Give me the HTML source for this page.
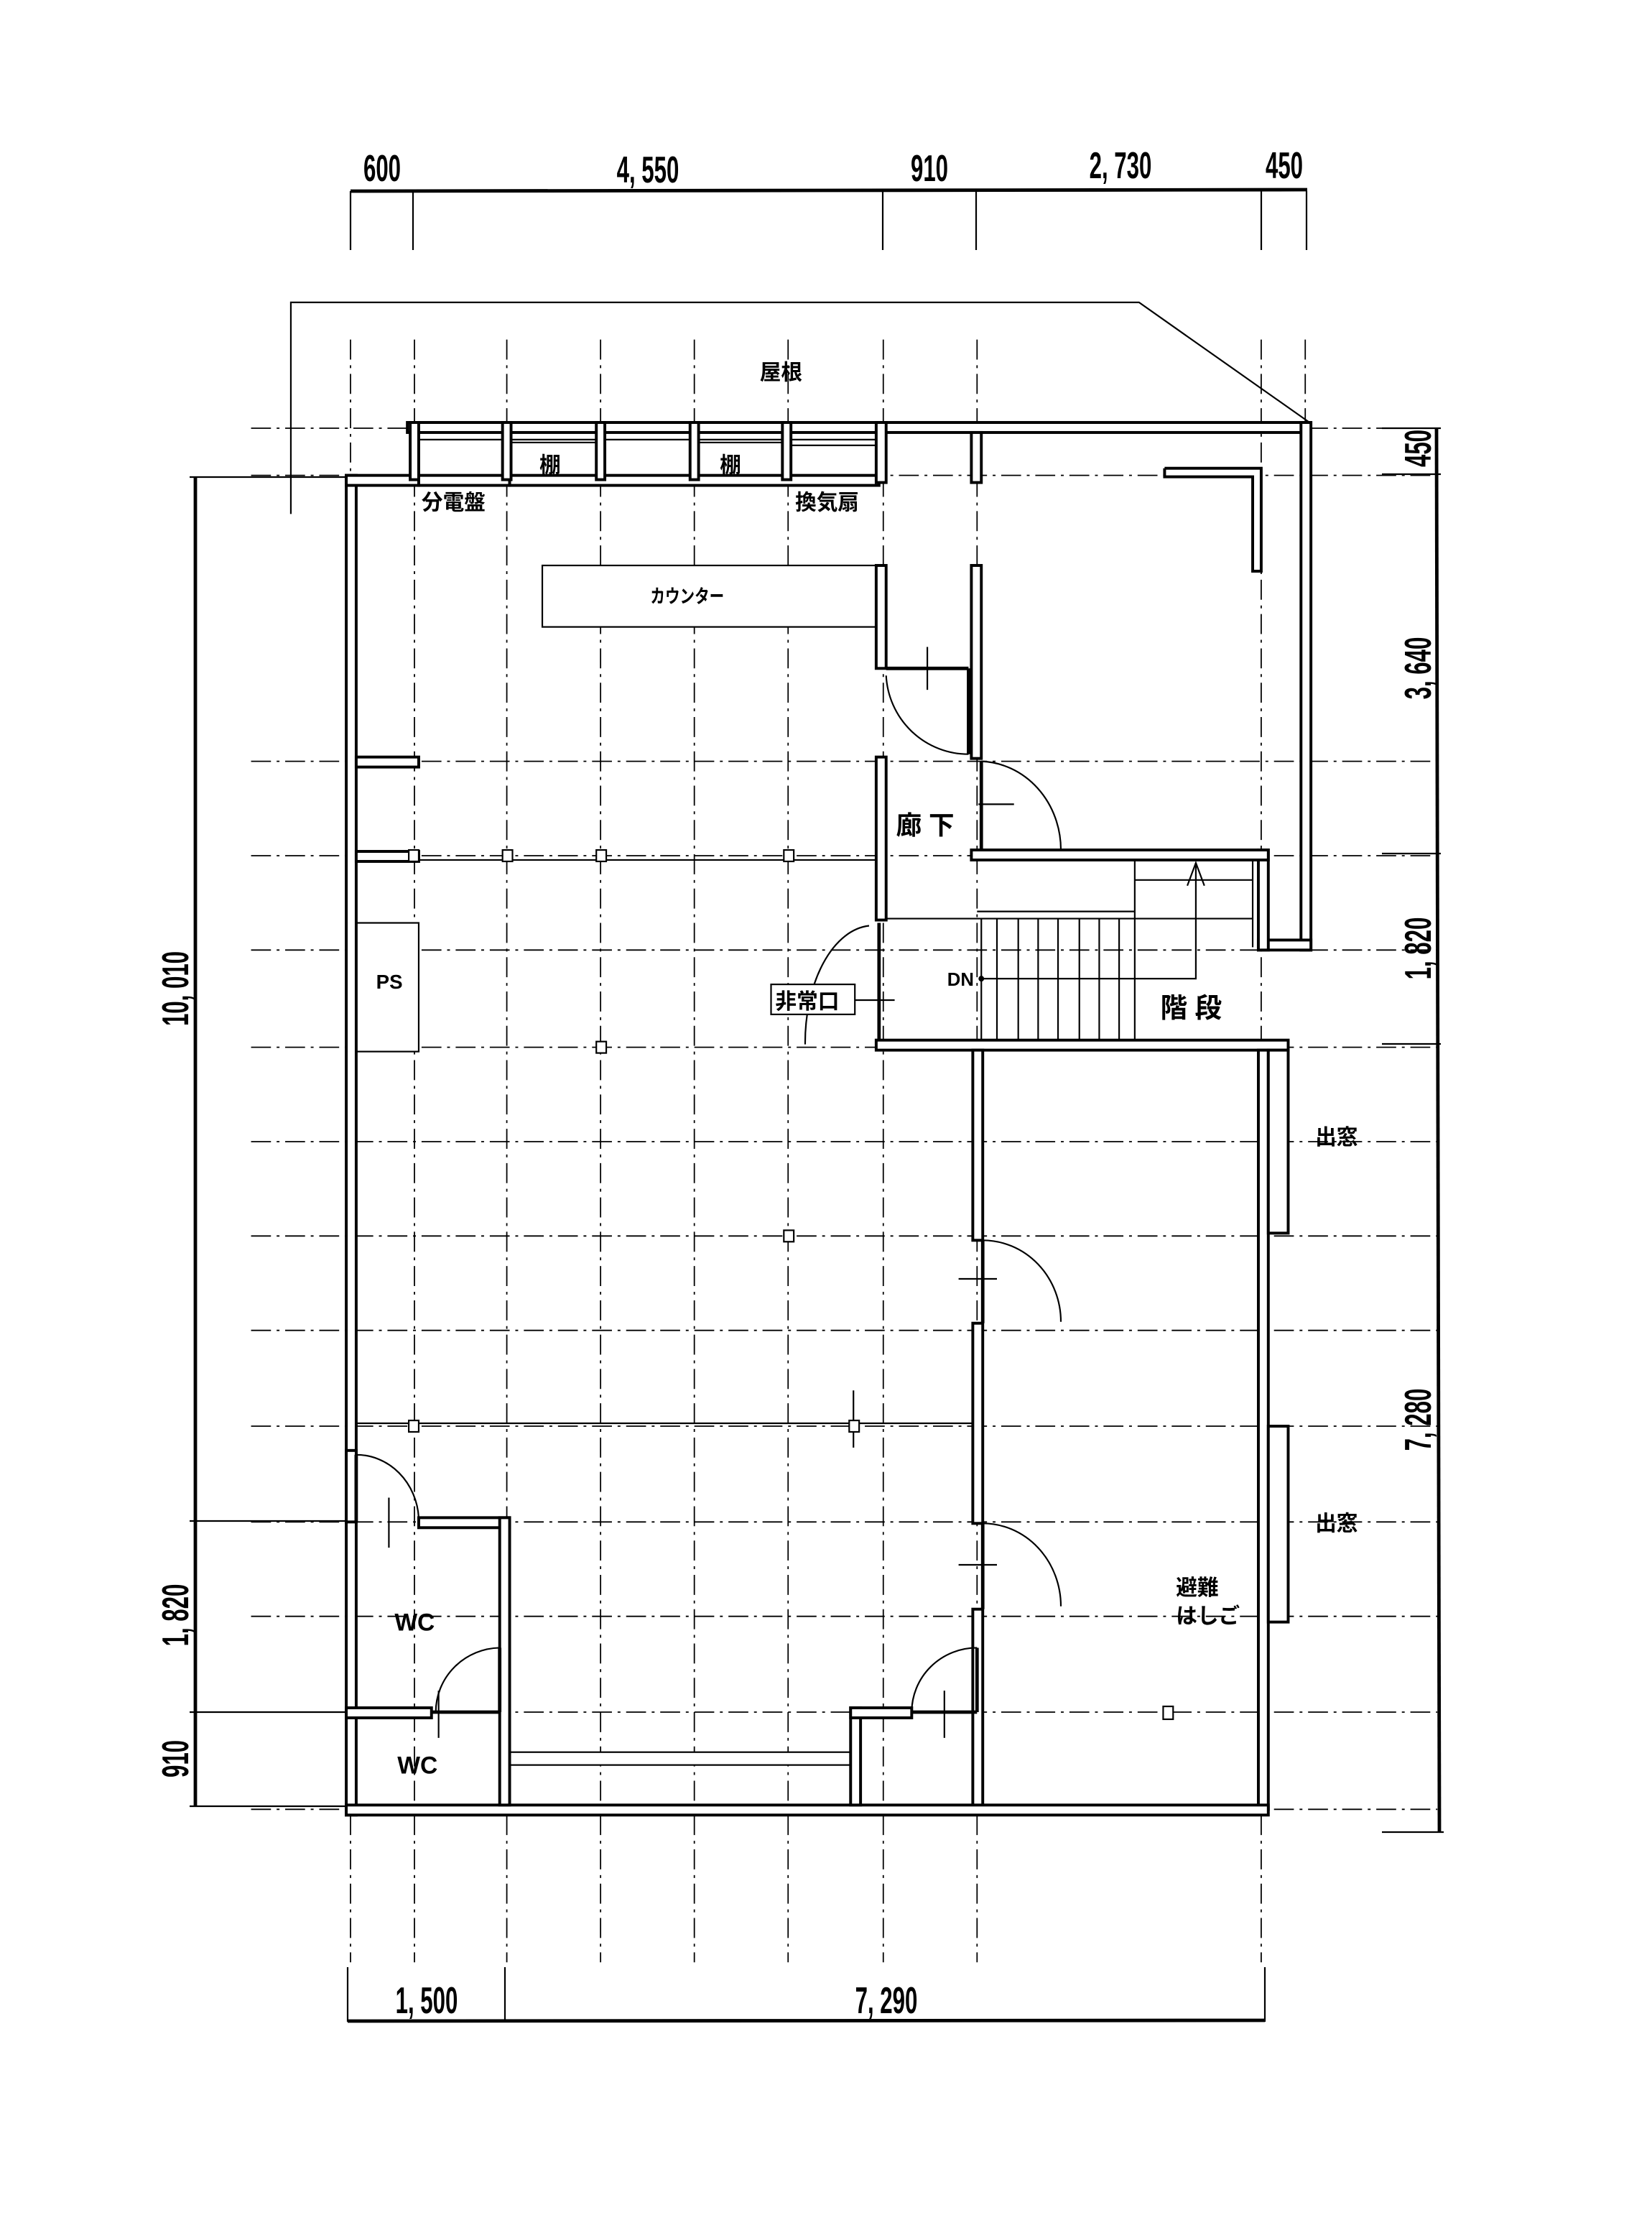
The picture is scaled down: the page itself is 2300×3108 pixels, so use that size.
<!DOCTYPE html>
<html><head><meta charset="utf-8"><style>
html,body{margin:0;padding:0;background:#fff;}
svg{display:block;}
text{font-family:"Liberation Sans","Noto Sans CJK JP",sans-serif;fill:#000;}
.g{stroke:#000;stroke-width:0.9;stroke-dasharray:14 4 2 4;fill:none;}
.w{fill:#fff;stroke:#000;stroke-width:2;}
.t{stroke:#000;stroke-width:1.1;fill:none;}
.k{stroke:#000;stroke-width:2.4;fill:none;}
.d{font-size:26px;font-weight:bold;}
.j{font-size:15px;font-weight:bold;}
</style></head><body>
<svg width="2300" height="3108" viewBox="0 0 1150 1554" xmlns="http://www.w3.org/2000/svg">

<line class="k" x1="244" y1="133" x2="910" y2="132"/>
<g class="t">
<line x1="244" y1="133" x2="244" y2="174"/><line x1="287.5" y1="133" x2="287.5" y2="174"/>
<line x1="614.5" y1="133" x2="614.5" y2="174"/><line x1="679.5" y1="133" x2="679.5" y2="174"/>
<line x1="878" y1="133" x2="878" y2="174"/><line x1="909.5" y1="133" x2="909.5" y2="174"/>
</g>
<g class="d" text-anchor="middle">
<text transform="translate(266,126) scale(0.6,1)">600</text>
<text transform="translate(451,127) scale(0.6,1)">4, 550</text>
<text transform="translate(647,126) scale(0.6,1)">910</text>
<text transform="translate(780,124) scale(0.6,1)">2, 730</text>
<text transform="translate(894,124) scale(0.6,1)">450</text>
</g>
<line class="k" x1="242" y1="1406.5" x2="880.5" y2="1406"/>
<g class="t">
<line x1="242" y1="1369" x2="242" y2="1407"/><line x1="351.5" y1="1369" x2="351.5" y2="1407"/><line x1="880.5" y1="1369" x2="880.5" y2="1407"/>
</g>
<g class="d" text-anchor="middle">
<text transform="translate(297,1401) scale(0.6,1)">1, 500</text>
<text transform="translate(617,1401) scale(0.6,1)">7, 290</text>
</g>
<line class="k" x1="136" y1="332" x2="136" y2="1257"/>
<g class="t">
<line x1="132" y1="332" x2="240" y2="332"/><line x1="132" y1="1058.5" x2="240" y2="1058.5"/>
<line x1="132" y1="1191.5" x2="240" y2="1191.5"/><line x1="132" y1="1257" x2="240" y2="1257"/>
</g>
<g class="d" text-anchor="middle">
<text transform="translate(131,688) rotate(-90) scale(0.6,1)">10, 010</text>
<text transform="translate(131,1124) rotate(-90) scale(0.6,1)">1, 820</text>
<text transform="translate(131,1224) rotate(-90) scale(0.6,1)">910</text>
</g>
<line class="k" x1="1000" y1="298" x2="1002" y2="1275"/>
<g class="t">
<line x1="962" y1="298" x2="1003" y2="298"/><line x1="962" y1="330" x2="1003" y2="330"/>
<line x1="962" y1="594" x2="1003" y2="594"/><line x1="962" y1="726.5" x2="1003" y2="726.5"/>
<line x1="962" y1="1275" x2="1005" y2="1275"/>
</g>
<g class="d" text-anchor="middle">
<text transform="translate(996,312) rotate(-90) scale(0.6,1)">450</text>
<text transform="translate(996,465) rotate(-90) scale(0.6,1)">3, 640</text>
<text transform="translate(996,660) rotate(-90) scale(0.6,1)">1, 820</text>
<text transform="translate(996,988) rotate(-90) scale(0.6,1)">7, 280</text>
</g>

<g transform="matrix(0.989,0,0,0.995,1.7,-2.5)">
<g class="g">
<line x1="245" y1="240" x2="245" y2="1375"/>
<line x1="290" y1="240" x2="290" y2="1375"/>
<line x1="355" y1="240" x2="355" y2="1375"/>
<line x1="421" y1="240" x2="421" y2="1375"/>
<line x1="487" y1="240" x2="487" y2="1375"/>
<line x1="553" y1="240" x2="553" y2="1375"/>
<line x1="620" y1="240" x2="620" y2="1375"/>
<line x1="686" y1="240" x2="686" y2="1375"/>
<line x1="886" y1="240" x2="886" y2="1375"/>
<line x1="917" y1="240" x2="917" y2="330"/>
<line x1="175" y1="302" x2="1010" y2="302"/>
<line x1="175" y1="335" x2="1010" y2="335"/>
<line x1="175" y1="535" x2="1010" y2="535"/>
<line x1="175" y1="601" x2="1010" y2="601"/>
<line x1="175" y1="667" x2="1010" y2="667"/>
<line x1="175" y1="735" x2="1010" y2="735"/>
<line x1="175" y1="801" x2="1010" y2="801"/>
<line x1="175" y1="867" x2="1010" y2="867"/>
<line x1="175" y1="933" x2="1010" y2="933"/>
<line x1="175" y1="1000" x2="1010" y2="1000"/>
<line x1="175" y1="1067" x2="1010" y2="1067"/>
<line x1="175" y1="1133" x2="1010" y2="1133"/>
<line x1="175" y1="1200" x2="1010" y2="1200"/>
<line x1="175" y1="1268" x2="1010" y2="1268"/>
</g>
<polyline class="t" points="203,362 203,214 800,214 920,298"/>
<text x="548" y="268" class="j" text-anchor="middle" font-size="16">屋根</text>

<g class="t">
<line x1="249" y1="604" x2="620" y2="604"/>
<line x1="249" y1="998" x2="686" y2="998"/>
<rect x="380" y="398" width="235" height="43" fill="#fff"/>
<rect x="249" y="648" width="44" height="90" fill="#fff"/>
<rect x="357" y="1228" width="240" height="9" fill="#fff"/>
<line x1="293" y1="310" x2="615" y2="310"/>
<rect x="357" y="312" width="64" height="24" fill="#fff"/>
<rect x="487" y="312" width="64" height="24" fill="#fff"/>
<line x1="553" y1="314" x2="615" y2="314"/>
</g>

<g class="w">
<rect x="285" y="298" width="635" height="7"/>
<rect x="242" y="335" width="7" height="937"/>
<rect x="242" y="335" width="51" height="7"/>
<rect x="287" y="298" width="6" height="40"/>
<rect x="293" y="335" width="64" height="7"/>
<rect x="357" y="335" width="260" height="7"/>
<rect x="352" y="298" width="6" height="40"/>
<rect x="418" y="298" width="6" height="40"/>
<rect x="484" y="298" width="6" height="40"/>
<rect x="549" y="298" width="6" height="40"/>
<rect x="615" y="298" width="7" height="42"/>
<rect x="615" y="398" width="7" height="72"/>
<rect x="615" y="532" width="7" height="114"/>
<rect x="682" y="305" width="7" height="35"/>
<rect x="682" y="398" width="7" height="135"/>
<rect x="914" y="298" width="7" height="369"/>
<rect x="884" y="660" width="37" height="7"/>
<rect x="884" y="597" width="7" height="70"/>
<rect x="682" y="597" width="209" height="7"/>
<polyline points="818,330 886,330 886,402 880,402 880,336 818,336 818,330"/>
<rect x="249" y="532" width="44" height="7"/>
<rect x="249" y="598" width="44" height="7"/>
<rect x="615" y="730" width="290" height="7"/>
<rect x="683" y="737" width="7" height="133"/>
<rect x="683" y="928" width="7" height="140"/>
<rect x="683" y="1128" width="7" height="142"/>
<rect x="884" y="737" width="7" height="531"/>
<rect x="891" y="737" width="14" height="128"/>
<rect x="891" y="1000" width="14" height="137"/>
<rect x="242" y="1265" width="649" height="7"/>
<rect x="293" y="1064" width="64" height="7"/>
<rect x="350" y="1064" width="7" height="201"/>
<rect x="242" y="1197" width="60" height="7"/>
<rect x="597" y="1197" width="7" height="68"/>
<rect x="597" y="1197" width="43" height="7"/>
<rect x="242" y="1017" width="7" height="50"/>
</g>
<g class="k">
<line x1="680" y1="470" x2="680" y2="530"/>
<line x1="622" y1="470" x2="680" y2="470"/>
<line x1="689" y1="535" x2="689" y2="597"/>
<line x1="690" y1="870" x2="690" y2="928"/>
<line x1="690" y1="1068" x2="690" y2="1128"/>
<line x1="249" y1="1020" x2="249" y2="1067"/>
<line x1="350" y1="1155" x2="350" y2="1200"/>
<line x1="686" y1="1155" x2="686" y2="1200"/>
<line x1="617" y1="648" x2="617" y2="730"/>
<line x1="640" y1="1200" x2="686" y2="1200"/>
<line x1="302" y1="1200" x2="350" y2="1200"/>
</g>
<g class="t">
<path d="M622,475 A58,58 0 0 0 680,530"/>
<path d="M689,535 A58,62 0 0 1 745,597"/>
<path d="M690,870 A55,57 0 0 1 745,927"/>
<path d="M690,1068 A55,58 0 0 1 745,1126"/>
<path d="M249,1020 A44,47 0 0 1 293,1064"/>
<path d="M350,1155 A46,45 0 0 0 305,1200"/>
<path d="M686,1155 A46,45 0 0 0 640,1200"/>
<path d="M610,650 A48,82 0 0 0 565,733"/>
<line x1="651" y1="455" x2="651" y2="485"/><line x1="687" y1="565" x2="712" y2="565"/>
<line x1="673" y1="897" x2="700" y2="897"/><line x1="673" y1="1097" x2="700" y2="1097"/>
<line x1="272" y1="1050" x2="272" y2="1085"/><line x1="307" y1="1185" x2="307" y2="1218"/>
<line x1="663" y1="1185" x2="663" y2="1218"/><line x1="600" y1="702" x2="628" y2="702"/>
<line x1="599" y1="975" x2="599" y2="1015"/>
</g>
<g class="t">
<line x1="622" y1="645" x2="797" y2="645"/>
<line x1="686" y1="640" x2="797" y2="640"/>
<line x1="797" y1="604" x2="797" y2="730"/>
<line x1="797" y1="618" x2="880" y2="618"/>
<line x1="797" y1="645" x2="880" y2="645"/>
<line x1="880" y1="604" x2="880" y2="665"/>
<line x1="689" y1="645" x2="689" y2="730"/>
<line x1="700" y1="645" x2="700" y2="730"/><line x1="715" y1="645" x2="715" y2="730"/>
<line x1="729" y1="645" x2="729" y2="730"/><line x1="743" y1="645" x2="743" y2="730"/>
<line x1="758" y1="645" x2="758" y2="730"/><line x1="772" y1="645" x2="772" y2="730"/>
<line x1="786" y1="645" x2="786" y2="730"/>
<polyline points="689,687 840,687 840,607"/>
<polyline points="834,622 840,606 846,622"/>
<rect x="541" y="691" width="59" height="21" fill="#fff"/>
</g>
<circle cx="689" cy="687" r="2"/>
<g class="t">
<rect x="286" y="597" width="7" height="8" fill="#fff"/><rect x="352" y="597" width="7" height="8" fill="#fff"/>
<rect x="418" y="597" width="7" height="8" fill="#fff"/><rect x="550" y="597" width="7" height="8" fill="#fff"/>
<rect x="418" y="731" width="7" height="8" fill="#fff"/><rect x="550" y="863" width="7" height="8" fill="#fff"/>
<rect x="286" y="996" width="7" height="8" fill="#fff"/><rect x="596" y="996" width="7" height="8" fill="#fff"/>
<rect x="817" y="1196" width="7" height="9" fill="#fff"/>
</g>
<g class="j">
<text x="295" y="359">分電盤</text>
<text x="558" y="359">換気扇</text>
<text x="378" y="333">棚</text>
<text x="505" y="333">棚</text>
<text transform="translate(482,424) scale(0.8,1)" font-size="13" text-anchor="middle">カウンター</text>
<text x="629" y="586" font-size="18">廊 下</text>
<text x="544" y="708">非常口</text>
<text x="815" y="714" font-size="19">階 段</text>
<text x="665" y="692" font-size="13">DN</text>
<text x="263" y="694" font-size="14">PS</text>
<text x="924" y="803">出窓</text>
<text x="924" y="1073">出窓</text>
<text x="826" y="1118">避難</text>
<text x="826" y="1138">はしご</text>
<text x="276" y="1143" font-size="17">WC</text>
<text x="278" y="1243" font-size="17">WC</text>
</g>
</g>
</svg>
</body></html>
